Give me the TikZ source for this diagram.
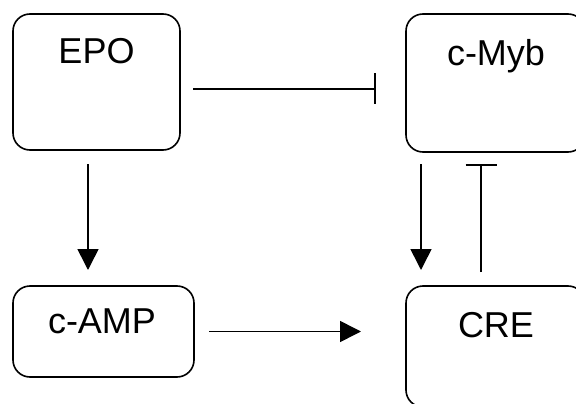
\documentclass[tikz,border=0pt]{standalone}
\usepackage{fontspec}
\setmainfont{Liberation Sans}
\usetikzlibrary{arrows.meta}
\begin{document}
\begin{tikzpicture}[x=1pt,y=1pt,
  box/.style={draw, line width=1.6pt, rounded corners=17pt, inner sep=0pt, outer sep=0pt},
  lbl/.style={anchor=base, inner sep=0pt, font=\fontsize{36}{40}\selectfont},
  act/.style={line width=1.6pt, -{Triangle[length=21pt,width=21pt]}},
  inh/.style={line width=1.6pt, -{Bar[width=31pt,line width=1.6pt]}}]
\useasboundingbox (0,0) rectangle (576,-404);
\clip (0,0) rectangle (576,-404);
\node[box, minimum width=167pt, minimum height=136pt] (epo) at (96.5,-82) {};
\node[box, minimum width=179pt, minimum height=138pt] (myb) at (495.5,-83) {};
\node[box, minimum width=181pt, minimum height=91pt] (camp) at (103.5,-331.5) {};
\node[box, minimum width=179pt, minimum height=121pt] (cre) at (495.5,-346.5) {};
\node[lbl] (epot) at (96.5,-64) {EPO};
\node[lbl] (mybt) at (496,-66) {c-Myb};
\node[lbl] (campt) at (102,-333) {c-AMP};
\node[lbl] (cret) at (496,-337) {CRE};
\draw[inh, shorten <=13pt, shorten >=30pt] ([yshift=-7pt]epo.east) -- ([yshift=-7pt]epo.east -| myb.west);
\draw[act, shorten <=14pt, shorten >=16pt] ([xshift=-8.5pt]epo.south) -- ([xshift=-8.5pt]epo.south |- camp.north);
\draw[act, shorten <=15pt, shorten >=45pt] (camp.east) -- (camp.east -| cre.west);
\draw[act, shorten <=12pt, shorten >=16pt] ([xshift=-74.5pt]myb.south) -- ([xshift=-74.5pt]myb.south |- cre.north);
\draw[inh, shorten <=14pt, shorten >=12pt] ([xshift=-14.5pt]cre.north) -- ([xshift=-14.5pt]cre.north |- myb.south);
\end{tikzpicture}
\end{document}
